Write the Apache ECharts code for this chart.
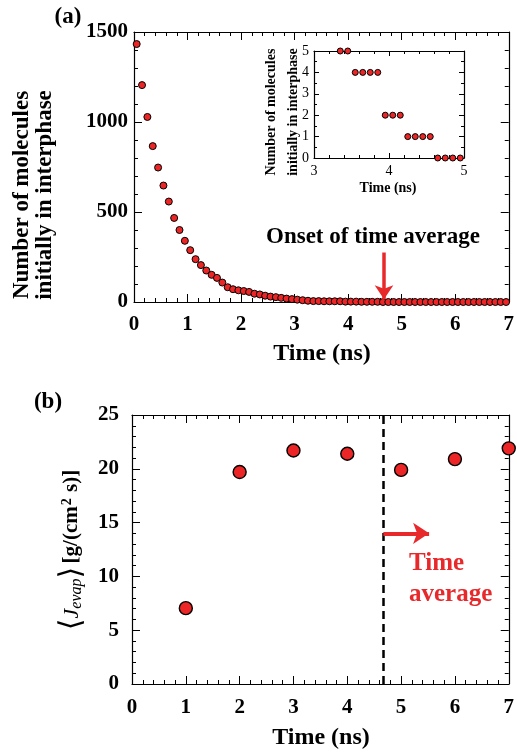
<!DOCTYPE html>
<html>
<head>
<meta charset="utf-8">
<script src="https://cdn.jsdelivr.net/npm/echarts@6/dist/echarts.min.js"></script>
<style>
html,body{margin:0;padding:0;background:#fff;}
#chart{width:517px;height:754px;}
</style>
</head>
<body>
<div id="chart"></div>
<script>
// ---- Panel (a) main data ----
const timesA = [0.05,0.15,0.25,0.35,0.45,0.55,0.65,0.75,0.85,0.95,
  1.05,1.15,1.25,1.35,1.45,1.55,1.65,1.75,1.85,1.95,
  2.05,2.15,2.25,2.35,2.45,2.55,2.65,2.75,2.85,2.95,
  3.05,3.15,3.25,3.35,3.45,3.55,3.65,3.75,3.85,3.95,
  4.05,4.15,4.25,4.35,4.45,4.55,4.65,4.75,4.85,4.95,
  5.05,5.15,5.25,5.35,5.45,5.55,5.65,5.75,5.85,5.95,
  6.05,6.15,6.25,6.35,6.45,6.55,6.65,6.75,6.85,6.95];
const countsA = [1433,1205,1028,866,747,647,558,467,400,340,
  288,238,205,175,151,134,108,82,71,65,
  61,56,46,42,35,30,27,23,19,16,
  13,10,7,5,5,4,4,4,4,2,
  2,2,1,1,1,1,0,0,0,0,
  0,0,0,0,0,0,0,0,0,0,
  0,0,0,0,0,0,0,0,0,0];
// ---- Inset data ----
const timesInset = [3.35,3.45,3.55,3.65,3.75,3.85,3.95,4.05,4.15,4.25,4.35,4.45,4.55,4.65,4.75,4.85,4.95];
const countsInset = [5,5,4,4,4,4,2,2,2,1,1,1,1,0,0,0,0];
// ---- Panel (b) data ----
const timesB = [1,2,3,4,5,6,7];
const fluxB = [7.05,19.7,21.7,21.4,19.9,20.9,21.9];
// ---- Annotation values ----
const onsetTime = 4.67;
const arrowTopA = 275, arrowTipA = 15;
const arrowYB = 14, arrowEndB = 5.52;

const FONT = '"Liberation Serif","Times New Roman",serif';
const RED = '#e8292b';
const MRED = '#ec2626';

function axis(gridIndex, min, max, interval, showLabel, pos, opts) {
  return {
    type: 'value', gridIndex, min, max, interval, position: pos,
    axisLine: {show: true, onZero: false, lineStyle: {color: '#000', width: 1.2}},
    axisTick: {show: true, inside: true, length: opts.tick, lineStyle: {color: '#000', width: 1}},
    minorTick: {show: true, splitNumber: opts.split, length: opts.minor, lineStyle: {color: '#000', width: 1}},
    axisLabel: {show: showLabel, color: '#000', fontFamily: FONT, fontWeight: opts.weight, fontSize: opts.fs, margin: opts.margin,
      formatter: function (v) { return String(v); }},
    splitLine: {show: false}
  };
}

const mainOpts = {tick: 8, minor: 4, split: 5, weight: 'bold', fs: 21, margin: 10};
const insetXOpts = {tick: 5, minor: 3, split: 5, weight: 'normal', fs: 14, margin: 6};
const insetYOpts = {tick: 5, minor: 3, split: 2, weight: 'normal', fs: 14, margin: 5};

const option = {
  animation: false,
  backgroundColor: '#fff',
  grid: [
    {left: 134, top: 32, width: 377, height: 270},
    {left: 314, top: 51, width: 150, height: 107},
    {left: 132, top: 415, width: 378, height: 269}
  ],
  xAxis: [
    axis(0, 0, 7, 1, true, 'bottom', Object.assign({}, mainOpts, {margin: 12})),
    axis(0, 0, 7, 1, false, 'top', mainOpts),
    axis(1, 3, 5, 1, true, 'bottom', insetXOpts),
    axis(1, 3, 5, 1, false, 'top', insetXOpts),
    axis(2, 0, 7, 1, true, 'bottom', Object.assign({}, mainOpts, {margin: 13})),
    axis(2, 0, 7, 1, false, 'top', mainOpts)
  ],
  yAxis: [
    axis(0, 0, 1500, 500, true, 'left', Object.assign({}, mainOpts, {margin: 6})),
    axis(0, 0, 1500, 500, false, 'right', mainOpts),
    axis(1, 0, 5, 1, true, 'left', insetYOpts),
    axis(1, 0, 5, 1, false, 'right', insetYOpts),
    axis(2, 0, 25, 5, true, 'left', Object.assign({}, mainOpts, {margin: 13})),
    axis(2, 0, 25, 5, false, 'right', mainOpts)
  ],
  series: [
    {
      type: 'scatter', xAxisIndex: 0, yAxisIndex: 0,
      data: timesA.map((t, i) => [t, countsA[i]]),
      symbolSize: 7, itemStyle: {color: MRED, borderColor: '#000', borderWidth: 1, opacity: 1}, z: 3,
      markLine: {
        silent: true, symbol: ['none', 'arrow'], symbolSize: 14,
        label: {show: false},
        lineStyle: {color: RED, width: 3.5, type: 'solid'},
        data: [[{coord: [onsetTime, arrowTopA]}, {coord: [onsetTime, arrowTipA]}]]
      }
    },
    {
      type: 'scatter', xAxisIndex: 2, yAxisIndex: 2,
      data: timesInset.map((t, i) => [t, countsInset[i]]),
      symbolSize: 6, itemStyle: {color: MRED, borderColor: '#000', borderWidth: 1, opacity: 1}, z: 6, clip: false
    },
    {
      type: 'scatter', xAxisIndex: 4, yAxisIndex: 4,
      data: timesB.map((t, i) => [t, fluxB[i]]),
      symbolSize: 13, itemStyle: {color: MRED, borderColor: '#000', borderWidth: 1.4, opacity: 1}, z: 4, clip: false,
      markLine: {
        silent: true, symbol: ['none', 'none'], label: {show: false},
        lineStyle: {color: '#000', width: 2.5, type: [8, 5]},
        data: [{xAxis: onsetTime}]
      }
    },
    {
      type: 'scatter', xAxisIndex: 4, yAxisIndex: 4, data: [], z: 4,
      markLine: {
        silent: true, symbol: ['none', 'arrow'], symbolSize: 16, label: {show: false},
        lineStyle: {color: RED, width: 4, type: 'solid'},
        data: [[{coord: [onsetTime, arrowYB]}, {coord: [arrowEndB, arrowYB]}]]
      }
    }
  ],
  graphic: [
    {type: 'text', x: 68, y: 17, style: {text: '(a)', font: 'bold 23px ' + FONT, fill: '#000', align: 'center', verticalAlign: 'middle'}},
    {type: 'text', x: 48, y: 402, style: {text: '(b)', font: 'bold 23px ' + FONT, fill: '#000', align: 'center', verticalAlign: 'middle'}},
    {type: 'text', x: 22, y: 195, rotation: Math.PI / 2, style: {text: 'Number of molecules', font: 'bold 23px ' + FONT, fill: '#000', align: 'center', verticalAlign: 'middle'}},
    {type: 'text', x: 45, y: 195, rotation: Math.PI / 2, style: {text: 'initially in interphase', font: 'bold 23px ' + FONT, fill: '#000', align: 'center', verticalAlign: 'middle'}},
    {type: 'text', x: 322, y: 354, style: {text: 'Time (ns)', font: 'bold 24px ' + FONT, fill: '#000', align: 'center', verticalAlign: 'middle'}},
    {type: 'text', x: 373, y: 237, style: {text: 'Onset of time average', font: 'bold 23px ' + FONT, fill: '#000', align: 'center', verticalAlign: 'middle'}},
    {type: 'text', x: 271, y: 112, z: 10, rotation: Math.PI / 2, style: {text: 'Number of molecules', font: 'bold 14px ' + FONT, fill: '#000', align: 'center', verticalAlign: 'middle'}},
    {type: 'text', x: 293, y: 112, z: 10, rotation: Math.PI / 2, style: {text: 'initially in interphase', font: 'bold 14px ' + FONT, fill: '#000', align: 'center', verticalAlign: 'middle'}},
    {type: 'text', x: 388, y: 188, z: 10, style: {text: 'Time (ns)', font: 'bold 14px ' + FONT, fill: '#000', align: 'center', verticalAlign: 'middle'}},
    {type: 'text', x: 321, y: 738, style: {text: 'Time (ns)', font: 'bold 24px ' + FONT, fill: '#000', align: 'center', verticalAlign: 'middle'}},
    {type: 'text', x: 409, y: 564, style: {text: 'Time', font: 'bold 25px ' + FONT, fill: RED, align: 'left', verticalAlign: 'middle'}},
    {type: 'text', x: 409, y: 595, style: {text: 'average', font: 'bold 25px ' + FONT, fill: RED, align: 'left', verticalAlign: 'middle'}},
    {type: 'text', x: 72, y: 550, rotation: Math.PI / 2, style: {
      text: '{br|⟨}{j|J}{sub|evap}{br|⟩} {b|[g/(cm}{sup|2}{b| s)]}',
      align: 'center', verticalAlign: 'middle', fill: '#000',
      rich: {
        br: {fontFamily: '"DejaVu Serif",serif', fontSize: 30, fontWeight: 'normal', fill: '#000'},
        j: {fontFamily: FONT, fontSize: 22, fontStyle: 'italic', fontWeight: 'normal', fill: '#000'},
        sub: {fontFamily: FONT, fontSize: 16, fontStyle: 'italic', fontWeight: 'normal', fill: '#000', padding: [10, 0, 0, 0]},
        b: {fontFamily: FONT, fontSize: 21, fontWeight: 'bold', fill: '#000'},
        sup: {fontFamily: FONT, fontSize: 14, fontWeight: 'bold', fill: '#000', padding: [0, 1, 10, 1]}
      }
    }}
  ]
};

const chart = echarts.init(document.getElementById('chart'), null, {renderer: 'canvas'});
chart.setOption(option);
</script>
</body>
</html>
